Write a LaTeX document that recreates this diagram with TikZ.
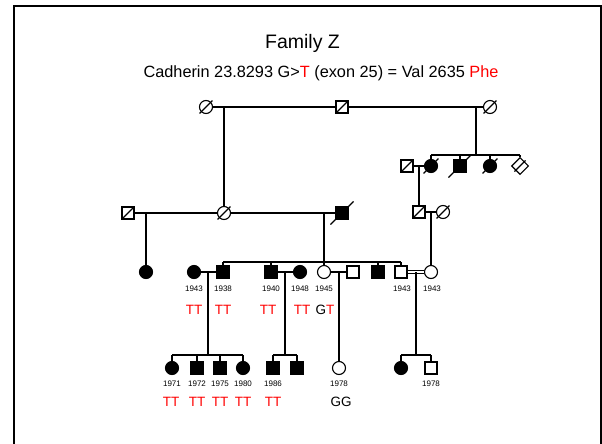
\documentclass[tikz,border=0pt]{standalone}
\usepackage{fontspec}
\setmainfont{Liberation Sans}
\usetikzlibrary{shapes.geometric}
\newcommand\dslash[2][3]{\draw[ln] ([shift={(-#1,#1)}]#2.south west) -- ([shift={(#1,-#1)}]#2.north east);}
\begin{document}
\begin{tikzpicture}[x=1pt,y=-1pt,
 every node/.style={inner sep=0pt},
 ln/.style={line width=1.1pt},
 male/.style={draw,rectangle,minimum size=12pt,line width=1.1pt},
 female/.style={draw,circle,minimum size=13pt,line width=1.1pt},
 unk/.style={draw,diamond,minimum size=17pt,line width=1.1pt},
 aff/.style={fill=black},
 yr/.style={font=\fontsize{8}{9}\selectfont},
 gt/.style={font=\fontsize{13.5}{15}\selectfont},
 red/.style={text=red}]
\useasboundingbox (0,0) rectangle (602,444);
\draw[line width=2pt] (14,6) rectangle (600.8,470);
\node[font=\fontsize{19.5}{22}\selectfont] (title) at (302.5,43) {Family Z};
\node[font=\fontsize{16.3}{18}\selectfont] (sub) at (321,73) {Cadherin 23.8293 G>\textcolor{red}{T} (exon 25) = Val 2635 \textcolor{red}{Phe}};
% Generation I
\node[female] (g1a) at (206,107) {}; \dslash[1.5]{g1a}
\node[male] (g1b) at (342,107) {}; \dslash[0]{g1b}
\node[female] (g1c) at (490,107) {}; \dslash[1.5]{g1c}
\draw[ln] (g1a) -- (g1b); \draw[ln] (g1b) -- (g1c);
\coordinate (m1) at (224,107); \coordinate (m2) at (476,107);
% Generation II left
\node[male] (g2a) at (128,213) {}; \dslash[0]{g2a}
\node[female] (g2b) at (224,213) {}; \dslash[1.5]{g2b}
\node[male,aff] (g2c) at (342,213) {}; \dslash[5]{g2c}
\draw[ln] (m1) -- (g2b.north);
\draw[ln] (g2a) -- (g2b); \draw[ln] (g2b) -- (g2c);
\coordinate (m3) at (146,213); \coordinate (m4) at (324,213);
% Generation II right
\coordinate (s1) at (476,155);
\node[male] (r1) at (407,166) {}; \dslash[0]{r1}
\node[female,aff] (r2) at (431,166) {}; \dslash[2.5]{r2}
\node[male,aff] (r3) at (460,166) {}; \dslash[5]{r3}
\node[female,aff] (r4) at (490,166) {}; \dslash[2.5]{r4}
\node[unk] (r5) at (520,166) {}; \dslash[1]{r5}
\draw[ln] (m2) -- (s1);
\draw[ln] (r2.north |- s1) -- (r5.north |- s1);
\foreach \n in {r2,r3,r4,r5} {\draw[ln] (\n.north) -- (\n.north |- s1);}
\draw[ln] (r1) -- (r2);
\coordinate (m5) at (419,166);
\node[male] (r6) at (419,212) {}; \dslash[0]{r6}
\node[female] (r7) at (443,212) {}; \dslash[1.5]{r7}
\draw[ln] (m5) -- (r6.north);
\draw[ln] (r6) -- (r7);
\coordinate (m6) at (431,212);
% Generation III
\coordinate (s2) at (324,262);
\node[female,aff] (c1) at (146,272) {};
\node[female,aff] (c2) at (194,272) {};
\node[male,aff] (c3) at (223,272) {};
\node[male,aff] (c4) at (271,272) {};
\node[female,aff] (c5) at (300,272) {};
\node[female] (c6) at (324,272) {};
\node[male] (c7) at (353,272) {};
\node[male,aff] (c8) at (378,272) {};
\node[male] (c9) at (401,272) {};
\node[female] (c10) at (431,272) {};
\draw[ln] (m3) -- (c1.north);
\draw[ln] (m4) -- (s2);
\draw[ln] (c3.north |- s2) -- (c9.north |- s2);
\foreach \n in {c3,c4,c6,c8,c9} {\draw[ln] (\n.north) -- (\n.north |- s2);}
\draw[ln] (m6) -- (c10.north);
\draw[ln] (c2) -- (c3); \draw[ln] (c4) -- (c5); \draw[ln] (c6) -- (c7);
\draw[line width=1.1pt,double,double distance=2pt] (c9.east) -- (c10.west);
\coordinate (m7) at (208,272); \coordinate (m8) at (285,272);
\coordinate (m9) at (339,272); \coordinate (m10) at (416,272);
\node[yr] (y1) at (194,289) {1943};
\node[yr] (y2) at (223,289) {1938};
\node[yr] (y3) at (271,289) {1940};
\node[yr] (y4) at (300,289) {1948};
\node[yr] (y5) at (324,289) {1945};
\node[yr] (y6) at (402,289) {1943};
\node[yr] (y7) at (432,289) {1943};
\node[gt,red] (t1) at (194,310) {TT};
\node[gt,red] (t2) at (223,310) {TT};
\node[gt,red] (t3) at (268,310) {TT};
\node[gt,red] (t4) at (302,310) {TT};
\node[gt] (t5) at (325,310) {G\textcolor{red}{T}};
% Generation IV
\coordinate (s3) at (208,355); \coordinate (s4) at (285,355); \coordinate (s5) at (416,355);
\node[female,aff] (d1) at (172,368) {};
\node[male,aff] (d2) at (197,368) {};
\node[male,aff] (d3) at (220,368) {};
\node[female,aff] (d4) at (243,368) {};
\node[male,aff] (d5) at (273,368) {};
\node[male,aff] (d6) at (297,368) {};
\node[female] (d7) at (339,368) {};
\node[female,aff] (d8) at (401,368) {};
\node[male] (d9) at (431,368) {};
\draw[ln] (m7) -- (s3); \draw[ln] (m8) -- (s4); \draw[ln] (m9) -- (d7.north); \draw[ln] (m10) -- (s5);
\draw[ln] (d1.north |- s3) -- (d4.north |- s3);
\draw[ln] (d5.north |- s4) -- (d6.north |- s4);
\draw[ln] (d8.north |- s5) -- (d9.north |- s5);
\foreach \n/\s in {d1/s3,d2/s3,d3/s3,d4/s3,d5/s4,d6/s4,d8/s5,d9/s5} {\draw[ln] (\n.north) -- (\n.north |- \s);}
\node[yr] (z1) at (172,384) {1971};
\node[yr] (z2) at (197,384) {1972};
\node[yr] (z3) at (220,384) {1975};
\node[yr] (z4) at (243,384) {1980};
\node[yr] (z5) at (273,384) {1986};
\node[yr] (z6) at (339,384) {1978};
\node[yr] (z7) at (431,384) {1978};
\node[gt,red] (u1) at (171,402) {TT};
\node[gt,red] (u2) at (197,402) {TT};
\node[gt,red] (u3) at (220,402) {TT};
\node[gt,red] (u4) at (243,402) {TT};
\node[gt,red] (u5) at (273,402) {TT};
\node[gt] (u6) at (341,402) {GG};
\end{tikzpicture}
\end{document}
